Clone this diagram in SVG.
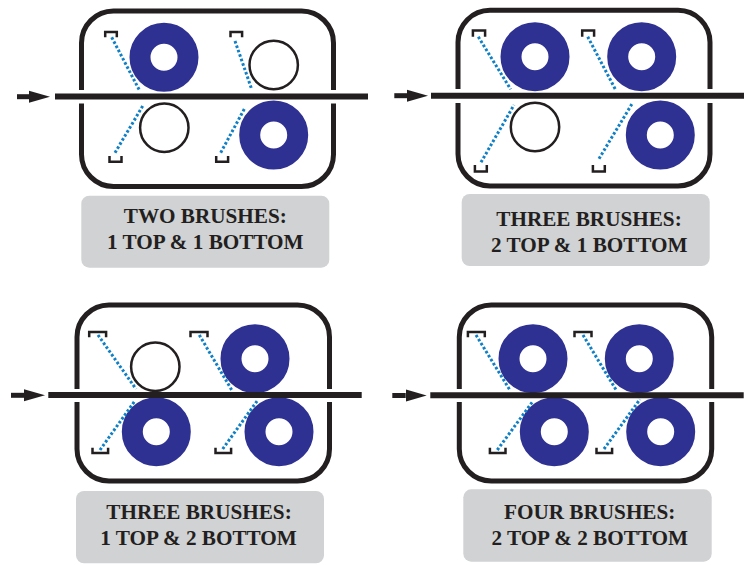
<svg xmlns="http://www.w3.org/2000/svg" width="750" height="565" viewBox="0 0 750 565">
<style>
.box{fill:none;stroke:#231f20;stroke-width:5}
.on{fill:none;stroke:#2e3192;stroke-width:21;r:24px}
.off{fill:none;stroke:#231f20;stroke-width:2.5;r:24.2px}
.br{fill:none;stroke:#231f20;stroke-width:2.5}
.dot{fill:none;stroke:#0f7fc6;stroke-width:3;stroke-dasharray:2.6 2.1}
.lab{fill:#d1d2d4}
.t{font-family:"Liberation Serif","Times New Roman",serif;font-weight:700;font-size:21.2px;fill:#231f20;text-anchor:middle}
.feed{stroke:#231f20;stroke-width:6;fill:none}
.arr{stroke:#231f20;stroke-width:5;fill:none;marker-end:url(#head)}
</style>
<defs>
<marker id="head" markerUnits="userSpaceOnUse" markerWidth="21" markerHeight="14" refX="0" refY="7" orient="auto"><path d="M0,1 L21,7 L0,13 Z" fill="#231f20"/></marker>
</defs>
<rect width="750" height="565" fill="#fff"/>
<g id="panel-1">
<path class="box" d="M81.5,90 V43 A32,32 0 0 1 113.5,11 H301.5 A32,32 0 0 1 333.5,43 V90 M333.5,103.5 V154.5 A32,32 0 0 1 301.5,186.5 H113.5 A32,32 0 0 1 81.5,154.5 V103.5"/>
<circle class="on" cx="164" cy="57.3"/><circle class="off" cx="273.7" cy="65"/><circle class="off" cx="164.3" cy="127.7"/><circle class="on" cx="273.7" cy="135"/>
<path class="br" d="M105.2,37.3 V32 H116.8 V37.3 M230.5,37.3 V32 H242.1 V37.3 M109.5,156 V161.8 H121.5 V156 M216.2,156 V161.8 H228.1 V156"/>
<path class="dot" d="M111.7,37.3 L139.3,90 M235,41 L251.7,89.3 M115,152.7 L142.7,106 M220.7,152.7 L245,107.7"/>
<rect class="lab" x="81.3" y="195.7" width="248" height="72" rx="8"/>
<text class="t" x="205.3" y="222.7">TWO BRUSHES:</text><text class="t" x="205.3" y="248.7">1 TOP &amp; 1 BOTTOM</text>
</g>
<g id="panel-2">
<path class="box" d="M458,89 V42.3 A32,32 0 0 1 490,10.3 H678 A32,32 0 0 1 710,42.3 V89 M710,103 V154 A32,32 0 0 1 678,186 H490 A32,32 0 0 1 458,154 V103"/>
<circle class="on" cx="535" cy="56.7"/><circle class="on" cx="641.7" cy="56.7"/><circle class="off" cx="535" cy="127"/><circle class="on" cx="660.3" cy="135"/>
<path class="br" d="M472.9,36.7 V30.6 H485.1 V36.7 M582.2,36.7 V30.6 H594.1 V36.7 M474.9,165 V171.4 H486.8 V165 M592.9,165 V171.4 H604.8 V165"/>
<path class="dot" d="M478.3,36.7 L510.7,89.3 M587.7,36.7 L615.7,90 M481,162.3 L514,105 M599,158.7 L632.7,102.7"/>
<rect class="lab" x="461.7" y="194" width="248" height="72" rx="8"/>
<text class="t" x="589" y="226">THREE BRUSHES:</text><text class="t" x="589.3" y="251.7">2 TOP &amp; 1 BOTTOM</text>
</g>
<g id="panel-3">
<path class="box" d="M77,389 V337 A32,32 0 0 1 109,305 H297.5 A32,32 0 0 1 329.5,337 V389 M329.5,402 V449 A32,32 0 0 1 297.5,481 H109 A32,32 0 0 1 77,449 V402"/>
<circle class="off" cx="155.3" cy="366.7"/><circle class="on" cx="255" cy="358.7"/><circle class="on" cx="156.3" cy="431.7"/><circle class="on" cx="279" cy="431.7"/>
<path class="br" d="M89.2,337.3 V332 H106.1 V337.3 M190.5,337.3 V332 H207.5 V337.3 M92.5,447.7 V453 H108.1 V447.7 M215.5,447.7 V453 H231.1 V447.7"/>
<path class="dot" d="M98,335 L136,389 M199.3,335 L231.7,390 M100,450 L135,400.7 M222.7,449 L258.3,399.3"/>
<rect class="lab" x="76" y="491" width="248" height="72.3" rx="8"/>
<text class="t" x="199" y="519">THREE BRUSHES:</text><text class="t" x="198.5" y="545">1 TOP &amp; 2 BOTTOM</text>
</g>
<g id="panel-4">
<path class="box" d="M459.3,389 V337 A32,32 0 0 1 491.3,305 H679.7 A32,32 0 0 1 711.7,337 V389 M711.7,402 V449 A32,32 0 0 1 679.7,481 H491.3 A32,32 0 0 1 459.3,449 V402"/>
<circle class="on" cx="533" cy="358.7"/><circle class="on" cx="639.3" cy="358.7"/><circle class="on" cx="554.3" cy="431.7"/><circle class="on" cx="660.7" cy="431.7"/>
<path class="br" d="M467.9,337.3 V332 H484.8 V337.3 M574.5,337.3 V332 H591.5 V337.3 M489.9,447.7 V453 H505.5 V447.7 M596.5,447.7 V453 H612.1 V447.7"/>
<path class="dot" d="M476,335 L510,390.3 M583,335 L616.3,390.3 M497.3,450 L533.3,400.7 M604,449 L640,399.3"/>
<rect class="lab" x="463.3" y="489.3" width="248.4" height="72.4" rx="8"/>
<text class="t" x="589.7" y="519">FOUR BRUSHES:</text><text class="t" x="589.7" y="545">2 TOP &amp; 2 BOTTOM</text>
</g>
<g id="connectors">
<line class="feed" x1="55" y1="96.5" x2="368" y2="96.5"/><line class="arr" x1="17" y1="96.7" x2="29" y2="96.7"/>
<line class="feed" x1="431" y1="95.7" x2="744" y2="95.7"/><line class="arr" x1="394.3" y1="95.7" x2="407" y2="95.7"/>
<line class="feed" x1="48.3" y1="395" x2="361.7" y2="395"/><line class="arr" x1="11" y1="395.3" x2="24" y2="395.3"/>
<line class="feed" x1="430.3" y1="395.3" x2="743.7" y2="395.3"/><line class="arr" x1="392.3" y1="395.5" x2="405.7" y2="395.5"/>
</g>
</svg>
